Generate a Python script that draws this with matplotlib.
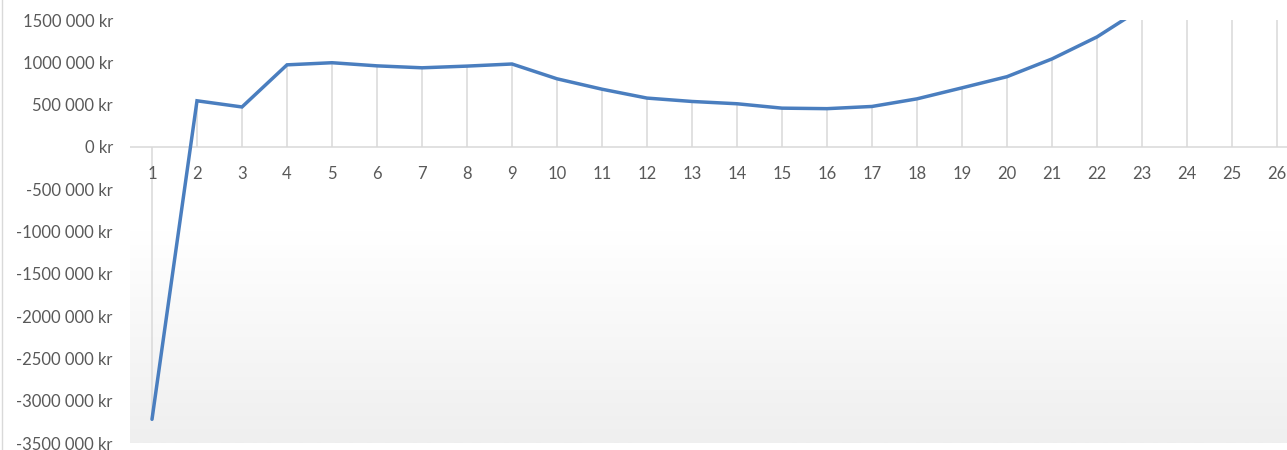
import numpy as np
import matplotlib
matplotlib.use("Agg")
import matplotlib.pyplot as plt
from matplotlib.ticker import FuncFormatter
from matplotlib.colors import LinearSegmentedColormap
from matplotlib.lines import Line2D

# data
perioder = list(range(1, 27))
verdi = [-3220000, 545000, 472000, 970000, 995000, 958000, 935000, 955000, 980000,
         805000, 682000, 577000, 537000, 510000, 458000, 452000, 478000, 568000,
         698000, 830000, 1040000, 1300000, 1640000, 2100000, 2620000, 3200000]
y_ticks = [-3500000, -3000000, -2500000, -2000000, -1500000, -1000000, -500000,
           0, 500000, 1000000, 1500000]

plt.rcParams['font.family'] = ['Lato', 'DejaVu Sans']

fig = plt.figure(figsize=(12.87, 4.5), dpi=100)
W, H = 1287, 450
ax = fig.add_axes([129.5 / W, 7 / H, 1170 / W, 423 / H])

# plot area gradient, white at top to light grey at bottom
cmap = LinearSegmentedColormap.from_list("bg", ["#ffffff", "#ffffff", "#efefef"], N=256)
grad = np.linspace(0, 1, 256).reshape(-1, 1)
ax.imshow(grad, cmap=cmap, aspect="auto", extent=[0, 1, 0, 1],
          transform=ax.transAxes, zorder=0, vmin=0, vmax=1)

# drop lines from each point to the axis
ax.vlines(perioder, 0, verdi, colors="#d9d9d9", linewidth=1.1, zorder=1)
ax.axhline(0, color="#d9d9d9", linewidth=1.1, zorder=1)

ax.plot(perioder, verdi, color="#4a7ebf", linewidth=2.5, zorder=3,
        solid_capstyle="round", solid_joinstyle="miter")

ax.set_xlim(0.5, 26.5)
ax.set_ylim(-3500000, 1500000)
ax.set_yticks(y_ticks)
ax.yaxis.set_major_formatter(FuncFormatter(
    lambda v, p: "0 kr" if v == 0 else f"{int(v / 1000)} 000 kr"))
ax.set_xticks(perioder)
ax.set_xticklabels([str(p) for p in perioder])

for s in ax.spines.values():
    s.set_visible(False)
ax.spines['bottom'].set_position(('data', 0))
ax.tick_params(axis="both", length=0, labelsize=12, labelcolor="#595959")
ax.tick_params(axis="x", pad=14)
ax.tick_params(axis="y", pad=12)

# chart border remnant on the left
fig.add_artist(Line2D([2 / W, 2 / W], [0, 1], color="#d9d9d9", linewidth=1.0))

fig.savefig("out.png", dpi=100)
